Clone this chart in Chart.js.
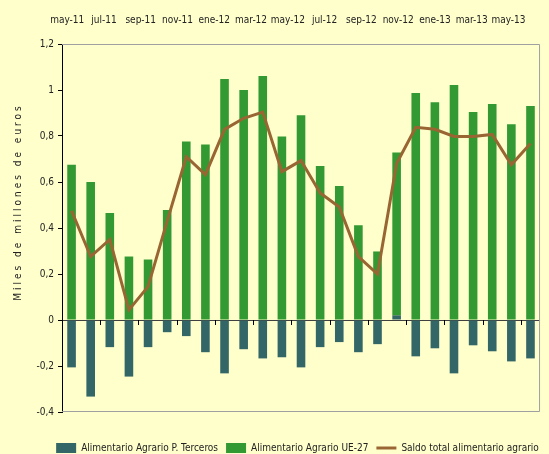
<!DOCTYPE html>
<html>
<head>
<meta charset="utf-8">
<script src="https://cdn.jsdelivr.net/npm/chart.js@4/dist/chart.umd.min.js"></script>
<style>
  html, body { margin: 0; padding: 0; background: #ffffcc; }
  #wrap { width: 549px; height: 454px; }
</style>
</head>
<body>
<div id="wrap"><canvas id="grafico" width="549" height="454"></canvas></div>
<script>
// meses (una barra por mes)
var meses = ['may-11','jun-11','jul-11','ago-11','sep-11','oct-11','nov-11','dic-11','ene-12','feb-12','mar-12','abr-12',
             'may-12','jun-12','jul-12','ago-12','sep-12','oct-12','nov-12','dic-12','ene-13','feb-13','mar-13','abr-13','may-13'];
// etiquetas del eje superior (se muestra una de cada dos)
var mesesEje = ['may-11','jun-11','jul-11','ago-11','sep-11','oct-11','nov-11','dic-11','ene-12','feb-12','mar-12','abr-12',
                'may-12','jun-12','jul-12','ago-12','sep-12','oct-12','nov-12','dic-12','ene-13','feb-13','mar-13','abr-13','may-13','jun-13'];

var terceros = [-0.206,-0.333,-0.118,-0.246,-0.118,-0.053,-0.070,-0.140,-0.232,-0.127,-0.167,-0.162,
                -0.206,-0.118,-0.096,-0.140,-0.105, 0.020,-0.158,-0.123,-0.232,-0.110,-0.136,-0.180,-0.167];
var ue27 = [0.675,0.600,0.465,0.276,0.263,0.478,0.776,0.763,1.048,1.000,1.061,0.798,
            0.890,0.670,0.583,0.412,0.298,0.708,0.987,0.947,1.022,0.904,0.939,0.851,0.930];
var saldo = [0.475,0.276,0.350,0.044,0.145,0.430,0.710,0.632,0.829,0.877,0.904,0.645,
             0.693,0.552,0.491,0.276,0.200,0.680,0.838,0.829,0.798,0.798,0.807,0.675,0.767];

var yMin = -0.4, yMax = 1.2, yPaso = 0.2;

var fuente = "'DejaVu Sans Condensed', 'Liberation Sans', sans-serif";

function coma(v) {
    var r = Math.round(v * 10) / 10;
    return String(r).replace('.', ',');
}

// marco gris, marcas sobre la linea del cero y titulo del eje Y
var marco = {
    id: 'marco',
    afterLayout: function (chart) {
        // la leyenda va algo desplazada a la derecha y abajo
        var l = chart.legend;
        l.left += 27; l.right += 27;
        l.top += 9; l.bottom += 9;
    },
    beforeDatasetsDraw: function (chart) {
        var a = chart.chartArea, ctx = chart.ctx;
        var x = chart.scales.x, y = chart.scales.y;
        ctx.save();
        ctx.strokeStyle = '#a0a0a0';
        ctx.lineWidth = 1;
        ctx.beginPath();
        ctx.moveTo(a.left, a.top + 0.5);
        ctx.lineTo(a.right - 0.5, a.top + 0.5);
        ctx.lineTo(a.right - 0.5, a.bottom - 0.5);
        ctx.lineTo(a.left, a.bottom - 0.5);
        ctx.stroke();

        var y0 = Math.round(y.getPixelForValue(0));
        ctx.strokeStyle = '#000';
        ctx.beginPath();
        for (var i = 2; i < meses.length; i += 2) {
            var px = Math.round((x.getPixelForValue(i - 1) + x.getPixelForValue(i)) / 2) + 0.5;
            ctx.moveTo(px, y0);
            ctx.lineTo(px, y0 + 5);
        }
        ctx.stroke();
        ctx.restore();
    },
    afterDraw: function (chart) {
        var ctx = chart.ctx;
        ctx.save();
        ctx.translate(18, 202);
        ctx.rotate(-Math.PI / 2);
        ctx.font = '10px ' + fuente;
        ctx.letterSpacing = '3px';
        ctx.fillStyle = '#222';
        ctx.textAlign = 'center';
        ctx.textBaseline = 'middle';
        ctx.fillText('Miles de millones de euros', 0, 0);
        ctx.restore();
    }
};

new Chart(document.getElementById('grafico'), {
    data: {
        labels: meses,
        datasets: [{
            type: 'bar',
            label: 'Alimentario Agrario P. Terceros',
            data: terceros,
            backgroundColor: '#336666',
            stack: 'barras',
            pointStyle: 'rect',
            barPercentage: 0.45,
            categoryPercentage: 1,
            order: 1
        }, {
            type: 'bar',
            label: 'Alimentario Agrario UE-27',
            data: ue27,
            backgroundColor: '#339933',
            stack: 'barras',
            pointStyle: 'rect',
            barPercentage: 0.45,
            categoryPercentage: 1,
            order: 1
        }, {
            type: 'line',
            label: 'Saldo total alimentario agrario',
            data: saldo,
            borderColor: '#996633',
            backgroundColor: '#996633',
            borderWidth: 3,
            pointRadius: 0,
            pointStyle: 'line',
            tension: 0,
            stack: 'linea',
            order: 0
        }]
    },
    options: {
        responsive: false,
        animation: false,
        layout: { padding: { left: 0, right: 8, top: 0, bottom: 0 } },
        scales: {
            x: {
                stacked: true,
                position: 'bottom',
                ticks: { display: false },
                grid: { display: false, drawTicks: false },
                border: { display: false },
                afterFit: function (s) { s.height = 14; }
            },
            xTop: {
                type: 'category',
                labels: mesesEje,
                position: 'top',
                offset: true,
                grid: { display: false, drawTicks: false },
                border: { display: false },
                ticks: {
                    autoSkip: false,
                    maxRotation: 0,
                    labelOffset: -4,
                    padding: 18,
                    color: '#222',
                    font: { family: fuente, size: 10 },
                    callback: function (v, i) { return i % 2 === 0 ? mesesEje[i] : ''; }
                },
                afterFit: function (s) { s.height = 44; }
            },
            y: {
                stacked: true,
                min: yMin,
                max: yMax,
                ticks: {
                    stepSize: yPaso,
                    color: '#222',
                    padding: 4,
                    font: { family: fuente, size: 10 },
                    callback: function (v) { return coma(v); }
                },
                grid: {
                    color: function (c) { return Math.abs(c.tick.value) < 1e-9 ? '#404040' : 'transparent'; },
                    tickColor: '#000',
                    tickLength: 4
                },
                border: { color: '#000', width: 1 },
                afterFit: function (s) { s.width = 62; }
            }
        },
        plugins: {
            legend: {
                position: 'bottom',
                labels: {
                    usePointStyle: true,
                    pointStyleWidth: 20,
                    boxHeight: 10,
                    padding: 8,
                    color: '#222',
                    font: { family: fuente, size: 10 },
                    sort: function (a, b) { return a.datasetIndex - b.datasetIndex; }
                }
            },
            tooltip: { enabled: false }
        }
    },
    plugins: [marco]
});
</script>
</body>
</html>
